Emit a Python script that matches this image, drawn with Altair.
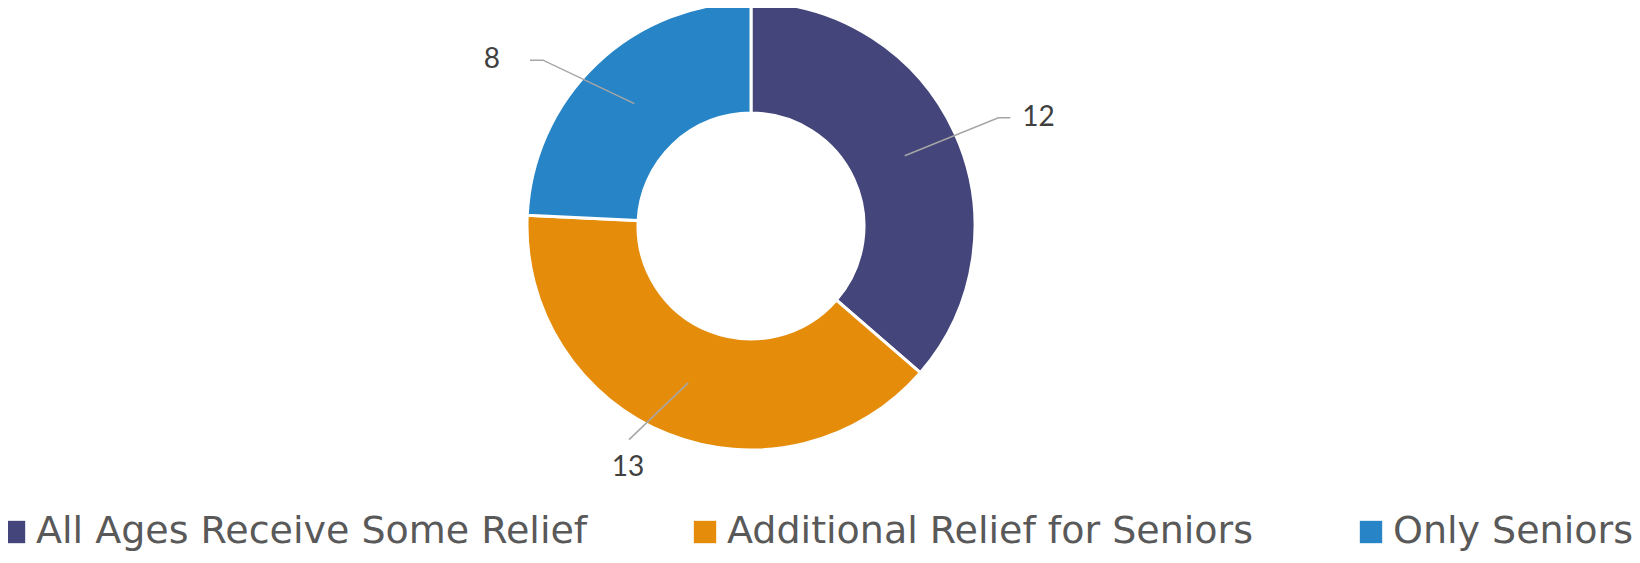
import math
import altair as alt
import pandas as pd

# ---- data ----
categories = ["All Ages Receive Some Relief", "Additional Relief for Seniors", "Only Seniors"]
values = [12, 13, 8]
colors = ["#44457A", "#E58D0B", "#2785C7"]

# ---- layout (pixels within the chart) ----
W, H = 1624, 547
CX, CY = 743, 218
R_OUT, R_IN = 224, 113
LEADER_R0 = 169
elbow_dtheta = [0.9, 7.9, -7.8]      # degrees offset from slice mid-angle
elbow_r = [270, 246, 266]
tail_len = [12, 0, -13]
label_dx = [12, -1, -30]
label_dy = [0, 28, 0]
label_align = ["left", "center", "right"]

df = pd.DataFrame({"category": categories, "value": values, "idx": list(range(len(values)))})

total = sum(values)
line_rows, label_rows = [], []
cum = 0


def pt(r, ang):
    a = math.radians(ang)
    return CX + r * math.sin(a), CY - r * math.cos(a)


for i, (c, v) in enumerate(zip(categories, values)):
    mid = (cum + v / 2) / total * 360
    cum += v
    x0, y0 = pt(LEADER_R0, mid)
    x1, y1 = pt(elbow_r[i], mid + elbow_dtheta[i])
    x2, y2 = x1 + tail_len[i], y1
    for k, (x, y) in enumerate([(x0, y0), (x1, y1), (x2, y2)]):
        line_rows.append({"category": c, "k": k, "x": x, "y": y})
    label_rows.append({"category": c, "label": str(v), "x": x2 + label_dx[i],
                       "y": y2 + label_dy[i], "align": label_align[i]})

lines = pd.DataFrame(line_rows)
labels = pd.DataFrame(label_rows)

color_scale = alt.Scale(domain=categories, range=colors)

arc = alt.Chart(df).mark_arc(
    innerRadius=R_IN, outerRadius=R_OUT, stroke="white", strokeWidth=3
).encode(
    theta=alt.Theta("value:Q", stack=True),
    order=alt.Order("idx:Q"),
    color=alt.Color(
        "category:N", scale=color_scale, sort=categories,
        legend=alt.Legend(
            title=None, orient="none", legendX=-13, legendY=505,
            direction="horizontal", symbolType="square", symbolSize=500,
            symbolStrokeWidth=0, labelFontSize=38, labelFont="DejaVu Sans",
            labelColor="#595959", labelOffset=3, columnPadding=98,
            labelLimit=800, padding=0,
        ),
    ),
    x=alt.value(CX),
    y=alt.value(CY),
)

leader = alt.Chart(lines).mark_line(color="#A6A6A6", strokeWidth=1.5).encode(
    x=alt.X("x:Q", scale=None),
    y=alt.Y("y:Q", scale=None),
    detail="category:N",
    order="k:Q",
)


def label_layer(align):
    return alt.Chart(labels[labels["align"] == align]).mark_text(
        font="Lato", fontSize=28, color="#404040", align=align, baseline="middle"
    ).encode(
        x=alt.X("x:Q", scale=None),
        y=alt.Y("y:Q", scale=None),
        text="label:N",
    )


chart = alt.layer(
    arc, leader, label_layer("left"), label_layer("right"), label_layer("center")
).properties(
    width=W, height=H, autosize=alt.AutoSizeParams(type="none"), padding=0
).configure_view(stroke=None)

chart.save("out.html", embed_options={"renderer": "svg", "actions": False})
